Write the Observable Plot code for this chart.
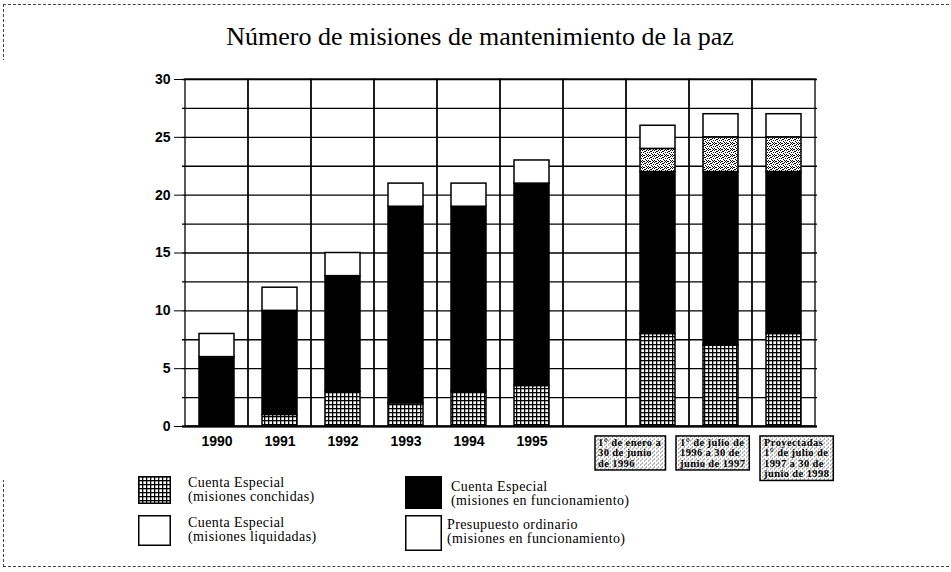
<!DOCTYPE html>
<html><head><meta charset="utf-8">
<script src="https://cdn.jsdelivr.net/npm/d3@7"></script>
<script src="https://cdn.jsdelivr.net/npm/@observablehq/plot@0.6"></script>
<style>
body{margin:0;background:#fff}
#wrap{position:relative;width:951px;height:572px;overflow:hidden;font-family:"Liberation Serif",serif;color:#000}
#border{position:absolute;left:3px;top:4px;width:960px;height:561px;border-top:1px dashed #444;border-left:1px dashed #444;border-bottom:1px dashed #444}
#title{position:absolute;top:22px;left:0;width:960px;text-align:center;font-size:26px;line-height:30px}
#chart{position:absolute;top:60px;left:0}
.sw{position:absolute}
.lt{position:absolute;font-size:14px;line-height:14px;letter-spacing:0.4px;white-space:nowrap}
</style></head>
<body>
<div id="wrap">
  <svg width="0" height="0" style="position:absolute">
    <defs>
      <pattern id="pConch" width="4" height="4" patternUnits="userSpaceOnUse">
        <rect width="4" height="4" fill="#000"/>
        <rect x="1.3" y="1.3" width="2.7" height="2.7" fill="#fff"/>
      </pattern>
      <pattern id="pLiq" width="6" height="6" patternUnits="userSpaceOnUse">
        <rect width="6" height="6" fill="#fff"/>
        <rect x="0" y="0" width="1" height="1" fill="#000"/>
        <rect x="2" y="1" width="1" height="1" fill="#000"/>
        <rect x="4" y="0" width="1" height="1" fill="#000"/>
        <rect x="1" y="2" width="1" height="1" fill="#000"/>
        <rect x="5" y="2" width="1" height="1" fill="#000"/>
        <rect x="3" y="3" width="1" height="1" fill="#000"/>
        <rect x="0" y="4" width="1" height="1" fill="#000"/>
        <rect x="4" y="4" width="1" height="1" fill="#000"/>
        <rect x="2" y="5" width="1" height="1" fill="#000"/>
        <rect x="5" y="5" width="1" height="1" fill="#000"/>
        <rect x="3" y="1" width="1" height="1" fill="#000"/>
        <rect x="1" y="5" width="1" height="1" fill="#000"/>
      </pattern>
      <pattern id="pBox" width="4" height="4" patternUnits="userSpaceOnUse">
        <rect width="4" height="4" fill="#fff"/>
        <rect x="0" y="0" width="1" height="1" fill="#555"/>
        <rect x="2" y="2" width="1" height="1" fill="#666"/>
        <rect x="3" y="1" width="1" height="1" fill="#999"/>
      </pattern>
    </defs>
  </svg>
  <div id="border"></div>
  <div id="title">Número de misiones de mantenimiento de la paz</div>
  <div id="chart"></div>
  <svg class="sw" style="left:138px;top:476px" width="33" height="28"><rect x="0.75" y="0.75" width="31.5" height="26.5" fill="url(#pConch)" stroke="#000" stroke-width="1.5"/></svg>
  <div class="lt" style="left:188px;top:476px">Cuenta Especial<br>(misiones conchidas)</div>
  <svg class="sw" style="left:405px;top:476px" width="37" height="33"><rect width="37" height="33" fill="#000"/></svg>
  <div class="lt" style="left:451px;top:480px">Cuenta Especial<br>(misiones en funcionamiento)</div>
  <svg class="sw" style="left:138px;top:515px" width="33" height="31"><rect x="0.75" y="0.75" width="31.5" height="29.5" fill="#fff" stroke="#000" stroke-width="1.5"/></svg>
  <div class="lt" style="left:188px;top:516px">Cuenta Especial<br>(misiones liquidadas)</div>
  <svg class="sw" style="left:405px;top:515px" width="37" height="36"><rect x="0.75" y="0.75" width="35.5" height="34.5" fill="#fff" stroke="#000" stroke-width="1.5"/></svg>
  <div class="lt" style="left:447px;top:518px">Presupuesto ordinario<br>(misiones en funcionamiento)</div>
</div>
<script>
const years = ["1990", "1991", "1992", "1993", "1994", "1995"];
const periods = [
  "1° de enero a\n30 de junio\nde 1996",
  "1° de julio de\n1996 a 30 de\njunio de 1997",
  "Proyectadas\n1° de julio de\n1997 a 30 de\njunio de 1998"
];
const gap = " ";
const categories = [...years, gap, ...periods];

const seriesNames = [
  "Cuenta Especial (misiones conchidas)",
  "Cuenta Especial (misiones en funcionamiento)",
  "Cuenta Especial (misiones liquidadas)",
  "Presupuesto ordinario (misiones en funcionamiento)"
];
const conchidas      = [0, 1, 3, 2, 3, 3.5, null, 8, 7, 8];
const funcionamiento = [6, 9, 10, 17, 16, 17.5, null, 14, 15, 14];
const liquidadas     = [0, 0, 0, 0, 0, 0, null, 2, 3, 3];
const ordinario      = [2, 2, 2, 2, 2, 2, null, 2, 2, 2];
const yTicks = [0, 5, 10, 15, 20, 25, 30];

const seriesValues = [conchidas, funcionamiento, liquidadas, ordinario];
const rows = [];
categories.forEach((c, i) => {
  seriesValues.forEach((vals, s) => {
    if (vals[i] != null && vals[i] > 0) rows.push({cat: c, serie: seriesNames[s], value: vals[i]});
  });
});
const gridLevels = d3.range(0, 30.001, 2.5);
const labelShift = [-60, -41, -20];

const plot = Plot.plot({
  width: 951,
  height: 420,
  marginTop: 19,
  marginBottom: 54,
  marginLeft: 182,
  marginRight: 134,
  style: {fontFamily: "Liberation Sans, Arial, sans-serif", fontSize: "14px", fontWeight: "bold", background: "white", color: "black", overflow: "visible"},
  x: {domain: categories, padding: 0, axis: null},
  y: {domain: [0, 30], axis: null},
  color: {type: "ordinal", domain: seriesNames, range: ["url(#pConch)", "#000", "url(#pLiq)", "#fff"]},
  marks: [
    Plot.barY(categories, {x: d => d, y1: 0, y2: 30, fill: "none", stroke: "#000", strokeWidth: 1.3}),
    Plot.ruleY(gridLevels, {stroke: "#000", strokeWidth: 1.3}),
    Plot.barY(rows, Plot.stackY({x: "cat", y: "value", fill: "serie", stroke: "#000", strokeWidth: 1.5, insetLeft: 14, insetRight: 14})),
    Plot.ruleY([0], {stroke: "#000", strokeWidth: 2}),
    Plot.axisY({ticks: yTicks, label: null, tickSize: 8, tickPadding: 4, fontSize: 14, fontWeight: "bold", stroke: "#000"}),
    Plot.axisX({ticks: years, label: null, tickSize: 0, tickPadding: 10, fontSize: 14, fontWeight: "bold", tickFormat: d => years.includes(d) ? d : ""}),
    ...periods.map((p, i) => Plot.text([p], {
      x: d => d, frameAnchor: "bottom", dy: 12, dx: labelShift[i],
      textAnchor: "start", lineAnchor: "top", lineHeight: 1.0,
      fontFamily: "Liberation Serif, serif", fontSize: 10.5, fontWeight: "bold",
      fill: "#000"
    }))
  ]
});
document.getElementById("chart").appendChild(plot);

plot.querySelectorAll("text").forEach(t => {
  if (!periods.includes(Array.from(t.querySelectorAll("tspan")).map(s => s.textContent).join("\n"))) return;
  t.style.letterSpacing = "0.4px";
  const b = t.getBBox();
  const r = document.createElementNS("http://www.w3.org/2000/svg", "rect");
  r.setAttribute("x", b.x - 3);
  r.setAttribute("y", b.y - 1);
  r.setAttribute("width", b.width + 7);
  r.setAttribute("height", b.height + 2);
  r.setAttribute("fill", "url(#pBox)");
  r.setAttribute("stroke", "#000");
  r.setAttribute("stroke-width", "1.5");
  const tr = t.getAttribute("transform");
  if (tr) r.setAttribute("transform", tr);
  t.parentNode.insertBefore(r, t);
});
</script>
</body></html>
